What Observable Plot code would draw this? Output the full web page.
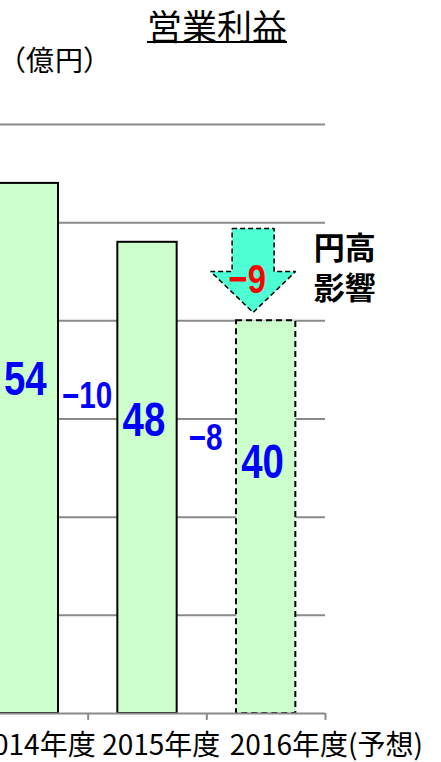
<!DOCTYPE html>
<html><head><meta charset="utf-8">
<script src="https://cdn.jsdelivr.net/npm/d3@7"></script>
<script src="https://cdn.jsdelivr.net/npm/@observablehq/plot@0.6"></script>
<style>
html,body{margin:0;padding:0;background:#fff;}
#wrap{position:relative;width:441px;height:762px;overflow:hidden;}
#chart{position:absolute;left:0;top:0;}
#title{position:absolute;left:0;width:434px;top:0px;text-align:center;font:35px/1.45 "Noto Sans CJK JP",sans-serif;color:#000;}
#title span{text-decoration:underline;text-decoration-thickness:2px;text-underline-offset:1px;}
#unit{position:absolute;left:11px;top:41px;font:28px/1.3 "Noto Sans CJK JP",sans-serif;font-feature-settings:"palt";letter-spacing:1px;color:#000;}
</style></head><body>
<div id="wrap"><div id="chart"></div><div id="title"><span></span></div><div id="unit"></div></div>
<script>
// ---- data ----
const title = "営業利益";
const unitLabel = "（億円）";
const years = ["2014年度", "2015年度", "2016年度(予想)"];
const profits = [54, 48, 40];
const isForecast = [false, false, true];
const changes = [-10, -8];
const yenImpact = -9;
const impactLines = ["円高", "影響"];
const gridTicks = [10, 20, 30, 40, 50, 60];

// ---- layout ----
document.querySelector("#title span").textContent = title;
document.querySelector("#unit").textContent = unitLabel;
const NUM = '"Liberation Sans", Arial, sans-serif';
const JP = '"Noto Sans CJK JP", sans-serif';
const stepPx = 356 / 3;
const labelOffsetPx = [8, 14, 23];

const bars = years.map((year, i) => ({year, i, value: profits[i], forecast: isForecast[i]}));
const steps = changes.map((change, i) => ({i, change, mid: (profits[i] + profits[i + 1]) / 2}));
const last = bars[bars.length - 1];
const ax = last.i - 0.11, shaft = 0.177, head = 0.358;
const aTop = last.value + Math.abs(yenImpact) + 0.4;
const aTip = last.value + 0.85;
const aBase = (aTop + aTip) / 2 - 0.1;
const arrow = [
  [ax - shaft, aTop], [ax + shaft, aTop], [ax + shaft, aBase], [ax + head, aBase],
  [ax, aTip], [ax - head, aBase], [ax - shaft, aBase], [ax - shaft, aTop]
];
const fmt = v => (v < 0 ? "\u2212" : "") + Math.abs(v);
const impactText = impactLines.map((t, k) => ({t, k}));

const plot = Plot.plot({
  width: 441, height: 762,
  marginTop: 124, marginBottom: 49, marginLeft: 0, marginRight: 116,
  x: {type: "linear", domain: [-0.5, 2.5], range: [-31, 325], axis: null},
  y: {domain: [0, 60], axis: null},
  style: {background: "transparent", fontFamily: JP},
  marks: [
    Plot.ruleY(gridTicks, {stroke: "#8a8a8a", strokeWidth: 2}),
    Plot.rect(bars.filter(d => !d.forecast), {
      x1: d => d.i - 0.25, x2: d => d.i + 0.25, y1: 0, y2: "value",
      fill: "#ccffcc", stroke: "#000", strokeWidth: 2
    }),
    Plot.rect(bars.filter(d => d.forecast), {
      x1: d => d.i - 0.25, x2: d => d.i + 0.25, y1: 0, y2: "value",
      fill: "#ccffcc", stroke: "#000", strokeWidth: 2, strokeDasharray: "6,4"
    }),
    Plot.ruleY([0], {stroke: "#8a8a8a", strokeWidth: 2}),
    Plot.ruleX(bars, {x: d => d.i + 0.5, y1: 0, y2: -0.7, stroke: "#8a8a8a", strokeWidth: 2}),
    Plot.line(arrow, {
      x: d => d[0], y: d => d[1], fill: "#4fffd4", stroke: "#000",
      strokeWidth: 1.5, strokeDasharray: "5,3", strokeLinejoin: "miter", strokeLinecap: "butt"
    }),
    Plot.text(bars, {
      x: d => d.i - 0.03, y: d => d.value * 0.6 - (d.i === 1 ? 0.5 : 0), text: d => String(d.value),
      fill: "#0000ff", fontSize: 48, fontWeight: "bold", fontFamily: NUM, lineAnchor: "bottom"
    }),
    Plot.text(steps, {
      x: d => d.i + 0.49, y: d => d.mid * 0.61, text: d => fmt(d.change),
      fill: "#0000ff", fontSize: 37, fontWeight: "bold", fontFamily: NUM, lineAnchor: "bottom"
    }),
    Plot.text([yenImpact], {
      x: ax - 0.05, y: aTip + 1.95, text: d => fmt(d),
      fill: "#ff0000", fontSize: 41, fontWeight: "bold", fontFamily: NUM, lineAnchor: "bottom"
    }),
    Plot.text(impactText, {
      x: last.i + 0.4, y: d => last.value + 2.2 + (impactLines.length - 1 - d.k) * 4.1, text: "t",
      textAnchor: "start", lineAnchor: "bottom",
      fill: "#000", fontSize: 31, fontWeight: "bold", fontFamily: JP
    }),
    Plot.text(bars, {
      x: d => d.i - 0.5 + labelOffsetPx[d.i] / stepPx, y: 0, dy: 41, text: "year",
      textAnchor: "start", lineAnchor: "bottom", fill: "#000", fontSize: 28, fontFamily: JP
    })
  ]
});
// condense the numeric labels horizontally (narrow gothic look)
plot.querySelectorAll('g[font-family*="Liberation"] text').forEach(t => {
  const tr = t.getAttribute("transform");
  if (tr) t.setAttribute("transform", tr + " scale(0.8,1)");
  else {
    const x = +t.getAttribute("x") || 0, y = +t.getAttribute("y") || 0;
    t.setAttribute("transform", `translate(${x},${y}) scale(0.8,1)`);
    t.setAttribute("x", 0); t.setAttribute("y", 0);
  }
});
document.getElementById("chart").append(plot);
</script>
</body></html>
